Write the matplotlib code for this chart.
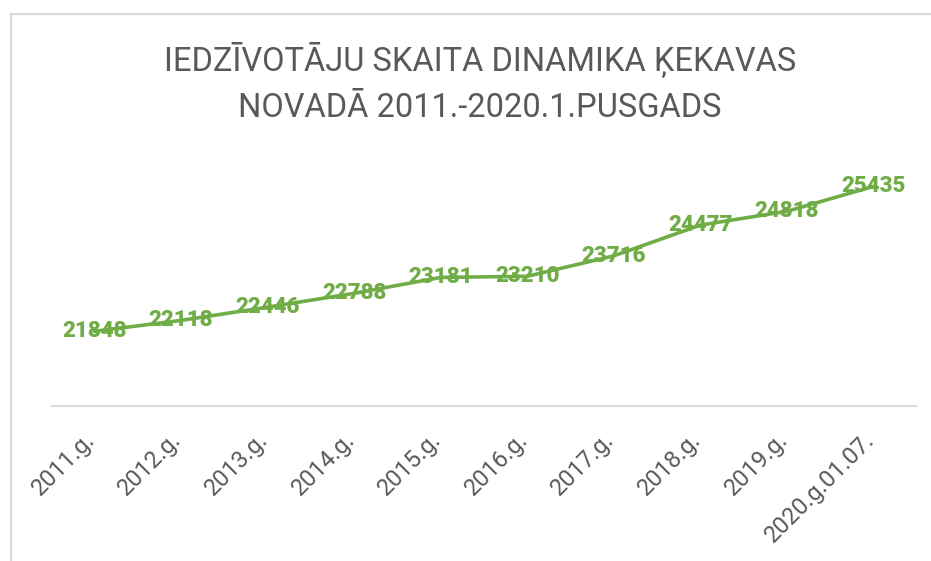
import matplotlib
matplotlib.use("Agg")
import matplotlib.pyplot as plt
from matplotlib.lines import Line2D
from matplotlib.transforms import ScaledTranslation

# ---- data ----
categories = ["2011.g.", "2012.g.", "2013.g.", "2014.g.", "2015.g.",
              "2016.g.", "2017.g.", "2018.g.", "2019.g.", "2020.g.01.07."]
population = [21848, 22118, 22446, 22788, 23181, 23210, 23716, 24477, 24818, 25435]
title_lines = ["IEDZĪVOTĀJU SKAITA DINAMIKA ĶEKAVAS", "NOVADĀ 2011.-2020.1.PUSGADS"]

W, H, DPI = 931, 561, 100
GREEN = "#70AD47"
GRAY_TXT = "#595959"
GRAY_LN = "#D9D9D9"
FAM = ["Roboto", "DejaVu Sans"]

fig = plt.figure(figsize=(W / DPI, H / DPI), dpi=DPI)
fig.patch.set_facecolor("white")

# chart frame (only top and left edges visible)
fig.add_artist(Line2D([10.5 / W, 10.5 / W], [0, 1 - 14 / H], transform=fig.transFigure,
                      color=GRAY_LN, lw=1.6))
fig.add_artist(Line2D([10.5 / W, 1], [1 - 14 / H, 1 - 14 / H], transform=fig.transFigure,
                      color=GRAY_LN, lw=1.6))

# plot area
left, right = 51 / W, 917 / W
bottom = (H - 406) / H
top = (H - 163.5) / H
ax = fig.add_axes([left, bottom, right - left, top - bottom])
ax.set_facecolor("none")

x = list(range(len(categories)))
ax.plot(x, population, color=GREEN, lw=2.6, solid_capstyle="round", zorder=2)

for xi, v in zip(x, population):
    ax.text(xi, v, f"{v}", ha="center", va="center", color=GREEN,
            fontsize=16, fontweight="heavy", family=FAM, zorder=3)

ax.set_xlim(-0.5, len(categories) - 0.5)
ax.set_ylim(20000, 26000)
ax.set_yticks([])
for s in ["left", "right", "top"]:
    ax.spines[s].set_visible(False)
ax.spines["bottom"].set_color(GRAY_LN)
ax.spines["bottom"].set_linewidth(1.3)

ax.set_xticks(x)
ax.set_xticklabels(categories, rotation=45, ha="right", va="center",
                   rotation_mode="anchor", color=GRAY_TXT, fontsize=17, family=FAM)
ax.tick_params(axis="x", length=0, pad=22)
for lab in ax.get_xticklabels():
    lab.set_transform(lab.get_transform() + ScaledTranslation(-3 / DPI, 0, fig.dpi_scale_trans))

# title
tx = 480 / W
fig.text(tx, 1 - 71 / H, title_lines[0], ha="center", va="baseline", color=GRAY_TXT,
         fontsize=23.5, fontweight="normal", family=FAM)
fig.text(tx, 1 - 117 / H, title_lines[1], ha="center", va="baseline", color=GRAY_TXT,
         fontsize=23.5, fontweight="normal", family=FAM)

fig.savefig("out.png", dpi=DPI, facecolor="white")
